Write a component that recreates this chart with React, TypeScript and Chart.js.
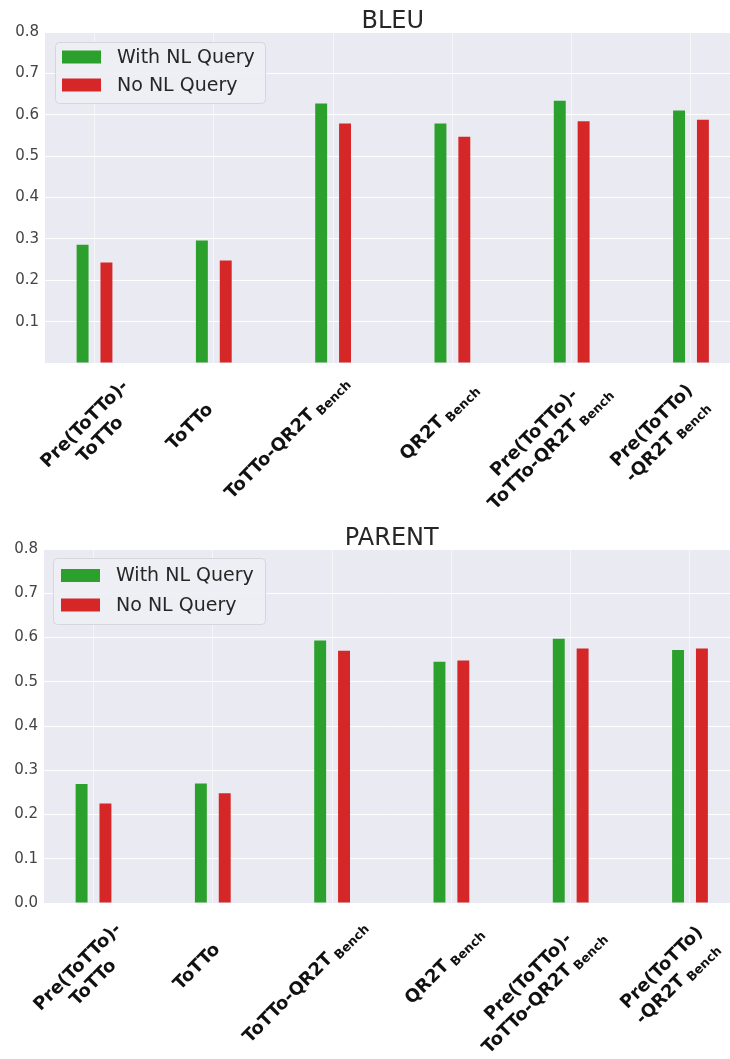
import React, { useEffect, useRef } from "react";
import { Chart, registerables } from "chart.js";

Chart.register(...registerables);

// Model variants on the x axis ("\n" = line break, "_" = subscript)
const categories = [
  "Pre(ToTTo)-\nToTTo",
  "ToTTo",
  "ToTTo-QR2T_Bench",
  "QR2T_Bench",
  "Pre(ToTTo)-\nToTTo-QR2T_Bench",
  "Pre(ToTTo)\n-QR2T_Bench",
];

const seriesNames = ["With NL Query", "No NL Query"];
const seriesColors = ["#2ca02c", "#d62728"];

const bleuWithQuery = [0.286, 0.296, 0.627, 0.579, 0.634, 0.61];
const bleuNoQuery = [0.243, 0.248, 0.579, 0.547, 0.584, 0.588];

const parentWithQuery = [0.269, 0.27, 0.593, 0.545, 0.597, 0.572];
const parentNoQuery = [0.225, 0.248, 0.57, 0.548, 0.575, 0.575];

const yMin = 0;
const yMax = 0.8;
const yStep = 0.1;

const FONT = '"DejaVu Sans", "Noto Sans", sans-serif';
const CANVAS_W = 760;

type Panel = {
  title: string;
  withQuery: number[];
  noQuery: number[];
  top: number;
  height: number;
  plotTop: number;
  plotHeight: number;
  plotLeft: number;
  plotRight: number;
  showZero: boolean;
  legend: { dx: number; dy: number; w: number; h: number; rows: number[] };
  labelShift: number[][];
};

const panels: Panel[] = [
  {
    title: "BLEU",
    withQuery: bleuWithQuery,
    noQuery: bleuNoQuery,
    top: 0,
    height: 510,
    plotTop: 32,
    plotHeight: 331,
    plotLeft: 45,
    plotRight: 740.5,
    showZero: false,
    legend: { dx: 10, dy: 10, w: 210, h: 61, rows: [25, 53] },
    labelShift: [
      [-3, 68],
      [-25, 63],
      [-46, 75],
      [-13, 59],
      [-29, 78],
      [-31, 71],
    ],
  },
  {
    title: "PARENT",
    withQuery: parentWithQuery,
    noQuery: parentNoQuery,
    top: 510,
    height: 549,
    plotTop: 39,
    plotHeight: 354,
    plotLeft: 44,
    plotRight: 739.5,
    showZero: true,
    legend: { dx: 9, dy: 9, w: 212, h: 66, rows: [26.5, 56] },
    labelShift: [
      [-9, 71],
      [-17, 63],
      [-27, 79],
      [-7, 63],
      [-34, 82],
      [-20, 73],
    ],
  },
];

function roundRectPath(ctx: CanvasRenderingContext2D, x: number, y: number, w: number, h: number, r: number) {
  ctx.beginPath();
  ctx.moveTo(x + r, y);
  ctx.lineTo(x + w - r, y);
  ctx.arcTo(x + w, y, x + w, y + r, r);
  ctx.lineTo(x + w, y + h - r);
  ctx.arcTo(x + w, y + h, x + w - r, y + h, r);
  ctx.lineTo(x + r, y + h);
  ctx.arcTo(x, y + h, x, y + h - r, r);
  ctx.lineTo(x, y + r);
  ctx.arcTo(x, y, x + r, y, r);
  ctx.closePath();
}

const MAIN_LABEL_FONT = `bold 18px ${FONT}`;
const SUB_LABEL_FONT = `bold 12.5px ${FONT}`;

// Rotated (45°) category label, centred on (cx, cy), lines centred on each other
function drawCategoryLabel(ctx: CanvasRenderingContext2D, text: string, cx: number, cy: number) {
  const lines = text.split("\n").map((l) => {
    const [main, sub] = l.split("_");
    ctx.font = MAIN_LABEL_FONT;
    const mw = ctx.measureText(main).width;
    let sw = 0;
    if (sub) {
      ctx.font = SUB_LABEL_FONT;
      sw = ctx.measureText(sub).width + 4;
    }
    return { main, sub, mw, w: mw + sw };
  });
  const capH = 13;
  const lineH = 22;
  const drop = 4;
  const last = lines[lines.length - 1];
  const totalH = capH + (lines.length - 1) * lineH + (last.sub ? drop : 0);

  ctx.save();
  ctx.translate(cx, cy);
  ctx.rotate(-Math.PI / 4);
  ctx.fillStyle = "#111";
  ctx.textAlign = "left";
  ctx.textBaseline = "alphabetic";
  let baseline = -totalH / 2 + capH;
  for (const ln of lines) {
    const x0 = -ln.w / 2;
    ctx.font = MAIN_LABEL_FONT;
    ctx.fillText(ln.main, x0, baseline);
    if (ln.sub) {
      ctx.font = SUB_LABEL_FONT;
      ctx.fillText(ln.sub, x0 + ln.mw + 4, baseline + drop);
    }
    baseline += lineH;
  }
  ctx.restore();
}

function ChartPanel({ panel }: { panel: Panel }) {
  const ref = useRef<HTMLCanvasElement | null>(null);

  useEffect(() => {
    const canvas = ref.current;
    if (!canvas) return;

    const decorations = {
      id: "panelDecorations",
      beforeDraw(chart: Chart) {
        const { ctx, chartArea } = chart;
        ctx.save();
        ctx.fillStyle = "#eaeaf2";
        ctx.fillRect(chartArea.left, chartArea.top, chartArea.right - chartArea.left, chartArea.bottom - chartArea.top);
        ctx.restore();
      },
      afterDraw(chart: Chart) {
        const { ctx, chartArea } = chart;
        const xScale = chart.scales.x;

        // title
        ctx.save();
        ctx.font = `24px ${FONT}`;
        ctx.fillStyle = "#262626";
        ctx.textAlign = "center";
        ctx.textBaseline = "alphabetic";
        ctx.fillText(panel.title, (chartArea.left + chartArea.right) / 2, chartArea.top - 4.5);
        ctx.restore();

        // legend
        const lg = panel.legend;
        const lx = chartArea.left + lg.dx;
        const ly = chartArea.top + lg.dy;
        ctx.save();
        roundRectPath(ctx, lx + 0.5, ly + 0.5, lg.w, lg.h, 4);
        ctx.fillStyle = "rgba(238,238,245,0.9)";
        ctx.fill();
        ctx.strokeStyle = "#d6d6dc";
        ctx.lineWidth = 1;
        ctx.stroke();
        ctx.font = `19px ${FONT}`;
        ctx.textAlign = "left";
        ctx.textBaseline = "middle";
        seriesNames.forEach((name, i) => {
          const cy = chartArea.top + lg.rows[i];
          ctx.fillStyle = seriesColors[i];
          ctx.fillRect(chartArea.left + 17, cy - 6.5, 39, 13);
          ctx.fillStyle = "#262626";
          ctx.fillText(name, chartArea.left + 72, cy + 1);
        });
        ctx.restore();

        // category labels
        categories.forEach((label, i) => {
          const px = xScale.getPixelForValue(i);
          const [dx, dy] = panel.labelShift[i];
          drawCategoryLabel(ctx, label, px + dx, chartArea.bottom + dy);
        });
      },
    };

    const chart = new Chart(canvas, {
      type: "bar",
      data: {
        datasets: [
          {
            label: seriesNames[0],
            data: panel.withQuery.map((y, i) => ({ x: i, y })),
            backgroundColor: seriesColors[0],
            borderWidth: 0,
          },
          {
            label: seriesNames[1],
            data: panel.noQuery.map((y, i) => ({ x: i, y })),
            backgroundColor: seriesColors[1],
            borderWidth: 0,
          },
        ],
      },
      options: {
        responsive: false,
        animation: false,
        devicePixelRatio: 1,
        layout: {
          padding: { top: panel.plotTop, left: 0, right: CANVAS_W - panel.plotRight, bottom: 0 },
        },
        datasets: {
          bar: { categoryPercentage: 0.4, barPercentage: 0.5 },
        },
        scales: {
          x: {
            type: "linear",
            min: -0.415,
            max: categories.length - 1 + 0.415,
            offset: false,
            border: { display: false },
            grid: { offset: false, color: "rgba(255,255,255,0.55)", lineWidth: 1, drawTicks: false },
            ticks: { display: false, stepSize: 1, includeBounds: false },
            afterFit: (s: any) => {
              s.height = panel.height - panel.plotTop - panel.plotHeight;
            },
          },
          y: {
            min: yMin,
            max: yMax,
            border: { display: false },
            grid: { color: "rgba(255,255,255,0.95)", lineWidth: 1, drawTicks: false },
            ticks: {
              stepSize: yStep,
              padding: 6,
              color: "#444",
              font: { family: FONT, size: 15 },
              callback: (v: any) => {
                const n = Number(v);
                if (!panel.showZero && Math.abs(n) < 1e-9) return "";
                return n.toFixed(1);
              },
            },
            afterFit: (s: any) => {
              s.width = panel.plotLeft;
            },
          },
        },
        plugins: {
          legend: { display: false },
          tooltip: { enabled: false },
          title: { display: false },
        },
      } as any,
      plugins: [decorations],
    });

    return () => chart.destroy();
  }, [panel]);

  return (
    <canvas
      ref={ref}
      width={CANVAS_W}
      height={panel.height}
      style={{ position: "absolute", left: 0, top: panel.top, width: CANVAS_W, height: panel.height }}
    />
  );
}

export default function App() {
  return (
    <div
      style={{
        position: "fixed",
        left: 0,
        top: 0,
        width: 730,
        height: 1059,
        overflow: "hidden",
        background: "#ffffff",
      }}
    >
      {panels.map((p) => (
        <ChartPanel key={p.title} panel={p} />
      ))}
    </div>
  );
}
